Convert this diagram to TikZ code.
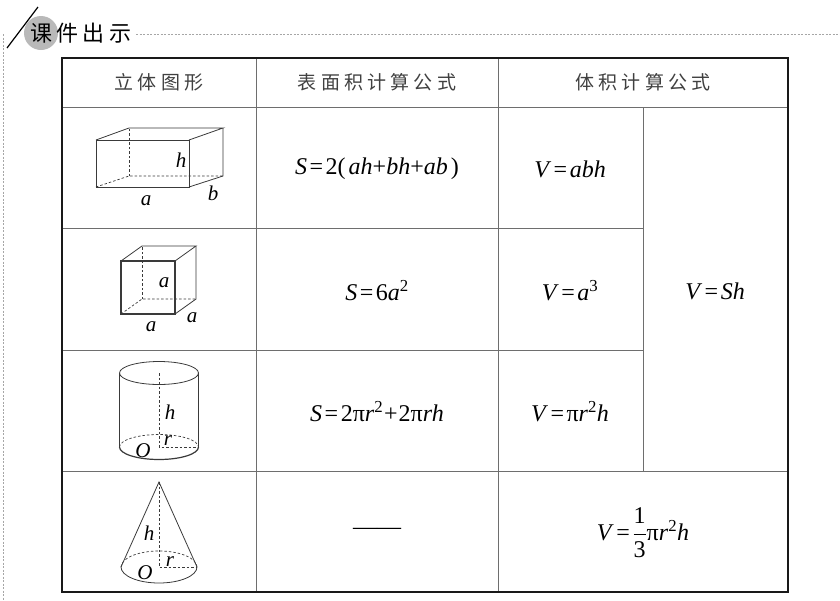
\documentclass[tikz,border=0pt]{standalone}
\usepackage{fontspec}
\setmainfont{Liberation Serif}
\newfontfamily\cjkhead[LetterSpace=22]{Noto Sans CJK SC}
\newfontfamily\cjktitle[LetterSpace=20]{Noto Sans CJK SC}
\definecolor{rulegray}{HTML}{6E6E6E}
\definecolor{figgray}{HTML}{3A3A3A}
\newcommand\eqs{\kern2.5pt=\kern2.5pt}
\tikzset{
  headtext/.style={font=\cjkhead\fontsize{19}{19}\selectfont, text=black!75},
  formula/.style={font=\fontsize{24}{24}\selectfont},
  figlabel/.style={font=\fontsize{21}{21}\selectfont\itshape, inner sep=0pt},
  fig/.style={figgray, line width=0.8pt},
  hidden/.style={figgray, line width=0.7pt, dash pattern=on 2.5pt off 2pt},
}

\begin{document}
\begin{tikzpicture}[x=1pt,y=-1pt]
\useasboundingbox (0,0) rectangle (840,600);
% dotted page frame
\draw[gray!70, line width=0.8pt, dash pattern=on 2pt off 1.5pt] (3,34) -- (3,600);
\draw[gray!70, line width=0.8pt, dash pattern=on 2pt off 1.5pt] (136,34) -- (840,34);
% title mark
\fill[gray!55] (41,33) circle (17);
\draw[line width=1.2pt] (7,48) -- (38,7);
\node[font=\cjktitle\fontsize{22}{22}\selectfont, anchor=west, inner sep=0pt] (title) at (30,33) {课件出示};

% table rules
\draw[rulegray, line width=0.9pt] (62,107) -- (788,107);
\draw[rulegray, line width=0.9pt] (62,228) -- (643,228);
\draw[rulegray, line width=0.9pt] (62,350) -- (643,350);
\draw[rulegray, line width=0.9pt] (62,471) -- (788,471);
\draw[rulegray, line width=0.9pt] (256,58) -- (256,592);
\draw[rulegray, line width=0.9pt] (498,58) -- (498,592);
\draw[rulegray, line width=0.9pt] (643,107) -- (643,471);
\draw[black!90, line width=2.5pt] (62,58) rectangle (788,592);

% head row
\node[headtext] (shape) at (159,82) {立体图形};
\node[headtext] (area) at (377,82) {表面积计算公式};
\node[headtext] (volume) at (643,82) {体积计算公式};

% cuboid
\draw[fig] (96,140) rectangle (189,187);
\draw[fig] (96,140) -- (129,128) -- (223,128) -- (189,140);
\draw[fig] (189,187) -- (223,176) -- (223,128);
\draw[hidden] (96,187) -- (129,176) -- (223,176);
\draw[hidden] (129,176) -- (129,128);
\node[figlabel] (cuboidh) at (181,160) {h};
\node[figlabel] (cuboida) at (146,201) {a};
\node[figlabel] (cuboidb) at (213,193) {b};

% cube
\draw[fig, line width=1.2pt] (121,261) rectangle (175,314);
\draw[fig] (121,261) -- (142,246) -- (196,246) -- (175,261);
\draw[fig] (196,246) -- (196,299) -- (175,314);
\draw[hidden] (121,314) -- (142,299) -- (196,299);
\draw[hidden] (142,299) -- (142,246);
\node[figlabel] (cubeh) at (164,283) {a};
\node[figlabel] (cubea) at (151,327) {a};
\node[figlabel] (cubeb) at (192,318) {a};

% cylinder
\draw[fig] (159,373) ellipse [x radius=39.5, y radius=11.5];
\draw[fig] (119.5,373) -- (119.5,447);
\draw[fig] (198.5,373) -- (198.5,447);
\draw[fig, line width=1.2pt] (198.5,447) arc [start angle=0, end angle=180, x radius=39.5, y radius=12.5];
\draw[hidden] (119.5,447) arc [start angle=180, end angle=360, x radius=39.5, y radius=12.5];
\draw[hidden] (159,373) -- (159,447) -- (198.5,447);
\node[figlabel] (cylh) at (170,412) {h};
\node[figlabel] (cylr) at (168,441) {r};
\node[figlabel] (cylo) at (143,451) {O};

% cone
\draw[fig] (121,567) -- (159,482) -- (197,567);
\draw[fig] (197,567) arc [start angle=0, end angle=180, x radius=38, y radius=16];
\draw[hidden] (121,567) arc [start angle=180, end angle=360, x radius=38, y radius=16];
\draw[hidden] (159,482) -- (159,567) -- (197,567);
\node[figlabel] (coneh) at (149,533) {h};
\node[figlabel] (coner) at (170,562) {r};
\node[figlabel] (coneo) at (145,573) {O};

% formulas
\node[formula] (s1) at (377,169) {\textit{S}\eqs2(\kern3pt\textit{ah}+\textit{bh}+\textit{ab}\kern3pt)};
\node[formula] (v1) at (570,169) {\textit{V}\eqs\textit{abh}};
\node[formula] (s2) at (377,291) {\textit{S}\eqs6\textit{a}\textsuperscript{2}};
\node[formula] (v2) at (570,291) {\textit{V}\eqs\textit{a}\textsuperscript{3}};
\node[formula] (vsh) at (715,291) {\textit{V}\eqs\textit{Sh}};
\node[formula] (s3) at (377,412) {\textit{S}\eqs2π\textit{r}\textsuperscript{2}\kern1pt+\kern1pt2π\textit{rh}};
\node[formula] (v3) at (570,412) {\textit{V}\eqs π\textit{r}\textsuperscript{2}\textit{h}};
\node[formula] (s4) at (377,531) {——};
\node[formula] (v4) at (643,533) {\textit{V}\eqs$\displaystyle\frac{\mbox{1}}{\mbox{3}}$π\textit{r}\textsuperscript{2}\textit{h}};
\end{tikzpicture}
\end{document}
